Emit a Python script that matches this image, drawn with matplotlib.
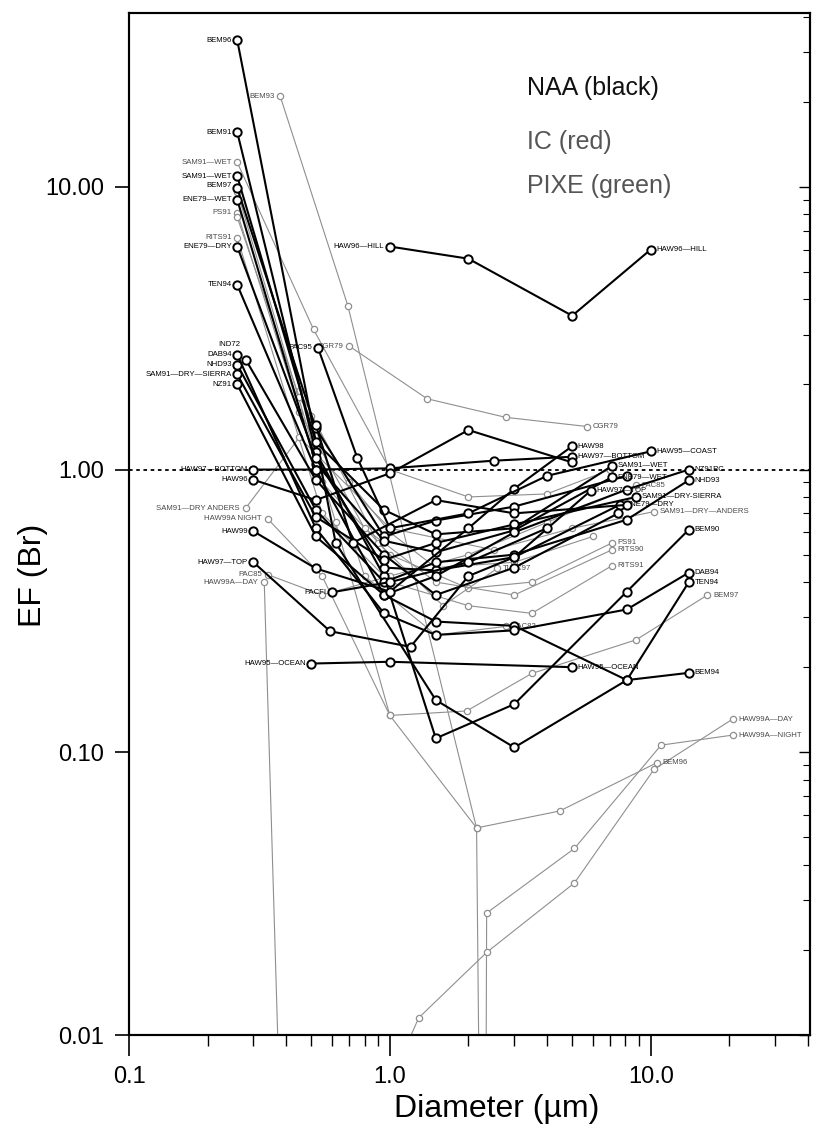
import matplotlib
matplotlib.use('Agg')
import matplotlib.pyplot as plt
from matplotlib.ticker import FixedLocator, FixedFormatter, LogLocator, NullFormatter

plt.rcParams['font.family'] = ['Liberation Sans', 'DejaVu Sans']

# ---- NAA (black) series: diameter (um), EF(Br) ----
bem96_x = [0.26, 0.62, 1.5, 3.0, 8.1, 14]
bem96_y = [33, 0.55, 0.153, 0.104, 0.18, 0.191]
bem91_x = [0.26, 0.52, 0.95, 1.5, 3.0, 8.1, 14]
bem91_y = [15.6, 1.15, 0.42, 0.112, 0.148, 0.37, 0.613]
samwet_x = [0.26, 0.52, 0.95, 1.5, 3.0, 7.1]
samwet_y = [10.9, 1.25, 0.72, 0.59, 0.62, 1.03]
bem97_x = [0.26, 0.52, 0.95, 1.5, 3.0, 8.1]
bem97_y = [9.9, 1.4, 0.58, 0.66, 0.74, 0.95]
enewet_x = [0.26, 0.52, 0.95, 1.5, 3.0, 7.1]
enewet_y = [9.0, 1.05, 0.56, 0.51, 0.61, 0.94]
enedry_x = [0.26, 0.52, 0.95, 1.5, 3.0, 7.6]
enedry_y = [6.15, 1.1, 0.45, 0.44, 0.49, 0.75]
ten94_x = [0.26, 0.52, 0.95, 1.5, 3.0, 8.1, 14]
ten94_y = [4.5, 1.0, 0.36, 0.29, 0.28, 0.18, 0.40]
dab94_x = [0.26, 0.52, 0.95, 1.5, 3.0, 8.1, 14]
dab94_y = [2.55, 0.62, 0.31, 0.26, 0.27, 0.32, 0.432]
ind72_x = [0.28, 0.52, 0.95, 1.5, 3.0, 7.5]
ind72_y = [2.45, 0.92, 0.50, 0.36, 0.45, 0.70]
nhd93_x = [0.26, 0.52, 0.95, 1.5, 3.0, 8.1, 14]
nhd93_y = [2.35, 0.72, 0.40, 0.47, 0.50, 0.665, 0.917]
sierra_x = [0.26, 0.52, 0.95, 1.5, 3.0, 8.8]
sierra_y = [2.17, 0.68, 0.48, 0.55, 0.64, 0.80]
nz91_x = [0.26, 0.52, 0.95, 1.5, 3.0, 8.1, 14]
nz91_y = [2.0, 0.58, 0.36, 0.42, 0.60, 0.85, 1.0]
hawbot_x = [0.30, 0.52, 1.0, 2.5, 5.0]
hawbot_y = [1.0, 1.0, 1.01, 1.075, 1.11]
haw96_x = [0.30, 0.52, 1.0, 2.0, 5.0]
haw96_y = [0.92, 0.78, 0.97, 1.38, 1.06]
haw99_x = [0.30, 0.52, 1.0, 2.0, 3.0, 5.0]
haw99_y = [0.605, 0.447, 0.37, 0.62, 0.856, 1.21]
hawtop_x = [0.30, 0.59, 1.2, 2.0, 3.0, 5.9]
hawtop_y = [0.47, 0.268, 0.236, 0.42, 0.49, 0.843]
ocean_x = [0.5, 1.0, 5.0]
ocean_y = [0.206, 0.209, 0.20]
hill_x = [1.0, 2.0, 5.0, 10.0]
hill_y = [6.15, 5.57, 3.5, 6.0]
coast_x = [0.53, 0.75, 1.0, 2.0, 4.0, 10.0]
coast_y = [2.7, 1.1, 0.62, 0.70, 0.95, 1.16]
pacfi_x = [0.60, 1.0, 2.0, 4.0]
pacfi_y = [0.368, 0.40, 0.47, 0.62]
extra_x = [0.52, 0.72, 1.5, 3.0, 8.1]
extra_y = [1.44, 0.55, 0.78, 0.70, 0.75]

# ---- IC / PIXE (grey in the scan) ----
bem93_x = [0.38, 0.69, 2.15, 4.48, 10.6]
bem93_y = [20.9, 3.8, 0.054, 0.062, 0.092]
gsam_x = [0.26, 0.51, 1.0, 2.0, 4.0, 7.0]
gsam_y = [12.2, 3.13, 1.0, 0.80, 0.82, 1.0]
gbem97_x = [0.26, 0.62, 1.0, 1.97, 3.5, 8.8, 16.5]
gbem97_y = [9.6, 0.65, 0.135, 0.14, 0.19, 0.25, 0.36]
ps91_x = [0.26, 0.55, 1.0, 2.0, 3.5, 7.1]
ps91_y = [8.1, 0.9, 0.5, 0.38, 0.40, 0.55]
rits91_x = [0.26, 0.55, 1.0, 2.0, 3.5, 7.1]
rits91_y = [6.6, 0.7, 0.40, 0.33, 0.31, 0.457]
rits90_x = [0.45, 0.8, 1.5, 3.0, 7.1]
rits90_y = [1.6, 0.62, 0.40, 0.36, 0.52]
cgr79_x = [0.70, 1.39, 2.78, 5.7]
cgr79_y = [2.73, 1.78, 1.53, 1.42]
anders_x = [0.28, 0.45, 1.0, 2.5, 5.0, 10.3]
anders_y = [0.73, 1.3, 0.62, 0.52, 0.62, 0.71]
night_x = [0.34, 0.55, 1.0, 2.15, 2.3, 2.35, 5.1, 10.96, 20.6]
night_y = [0.67, 0.42, 0.135, 0.054, 1e-4, 0.027, 0.0457, 0.106, 0.115]
day_x = [0.33, 0.40, 1.29, 2.35, 5.1, 10.3, 20.6]
day_y = [0.40, 0.001, 0.0115, 0.0196, 0.0345, 0.087, 0.131]
pac85_x = [0.34, 0.55, 1.0, 2.0, 4.0, 8.8]
pac85_y = [0.425, 0.36, 0.42, 0.50, 0.65, 0.88]
tlp_x = [0.45, 0.9, 1.6, 2.58]
tlp_y = [1.9, 0.55, 0.33, 0.447]
pac82_x = [0.5, 0.8, 1.5, 2.8]
pac82_y = [1.55, 0.42, 0.26, 0.279]
gextra_x = [0.26, 0.45, 0.7, 1.0, 1.5, 3.0, 6.0]
gextra_y = [7.8, 1.8, 0.9, 0.6, 0.45, 0.47, 0.58]

# (x, y, left label, right label)
naa = [
    (bem96_x, bem96_y, 'BEM96', 'BEM94'),
    (bem91_x, bem91_y, 'BEM91', 'BEM90'),
    (samwet_x, samwet_y, 'SAM91\u2014WET', 'SAM91\u2014WET'),
    (bem97_x, bem97_y, 'BEM97', None),
    (enewet_x, enewet_y, 'ENE79\u2014WET', 'ENE79\u2014WET'),
    (enedry_x, enedry_y, 'ENE79\u2014DRY', 'ENE79\u2014DRY'),
    (ten94_x, ten94_y, 'TEN94', 'TEN94'),
    (dab94_x, dab94_y, 'DAB94', 'DAB94'),
    (ind72_x, ind72_y, 'IND72', None),
    (nhd93_x, nhd93_y, 'NHD93', 'NHD93'),
    (sierra_x, sierra_y, 'SAM91\u2014DRY\u2014SIERRA', 'SAM91\u2014DRY-SIERRA'),
    (nz91_x, nz91_y, 'NZ91', 'NZ91PC'),
    (hawbot_x, hawbot_y, 'HAW97\u2014BOTTOM', 'HAW97\u2014BOTTOM'),
    (haw96_x, haw96_y, 'HAW96', None),
    (haw99_x, haw99_y, 'HAW99', 'HAW98'),
    (hawtop_x, hawtop_y, 'HAW97\u2014TOP', 'HAW97\u2014TOP'),
    (ocean_x, ocean_y, 'HAW95\u2014OCEAN', 'HAW95\u2014OCEAN'),
    (hill_x, hill_y, 'HAW96\u2014HILL', 'HAW96\u2014HILL'),
    (coast_x, coast_y, 'PAC95', 'HAW95\u2014COAST'),
    (pacfi_x, pacfi_y, 'PACFI', None),
    (extra_x, extra_y, None, None),
]
grey = [
    (bem93_x, bem93_y, 'BEM93', 'BEM96'),
    (gsam_x, gsam_y, 'SAM91\u2014WET', None),
    (gbem97_x, gbem97_y, None, 'BEM97'),
    (ps91_x, ps91_y, 'PS91', 'PS91'),
    (rits91_x, rits91_y, 'RITS91', 'RITS91'),
    (rits90_x, rits90_y, None, 'RITS90'),
    (cgr79_x, cgr79_y, 'CGR79', 'CGR79'),
    (anders_x, anders_y, 'SAM91\u2014DRY ANDERS', 'SAM91\u2014DRY\u2014ANDERS'),
    (night_x, night_y, 'HAW99A NIGHT', 'HAW99A\u2014NIGHT'),
    (day_x, day_y, 'HAW99A\u2014DAY', 'HAW99A\u2014DAY'),
    (pac85_x, pac85_y, 'PAC85', 'PAC85'),
    (tlp_x, tlp_y, None, 'TLPC97'),
    (pac82_x, pac82_y, None, 'PAC82'),
    (gextra_x, gextra_y, None, None),
]
# labels that sit a little above their marker in the original
raised = {'IND72': 11, 'BEM97': 2}

GREY = '#8f8f8f'
LBL = dict(fontsize=5.6, family=['Liberation Sans Narrow', 'Liberation Sans', 'DejaVu Sans'],
           textcoords='offset points', va='center')

fig = plt.figure(figsize=(8.14, 11.41), dpi=100)
ax = fig.add_axes([129 / 814, 1 - 1035 / 1141, 681 / 814, 1022 / 1141])
ax.set_xscale('log')
ax.set_yscale('log')
ax.set_xlim(0.1, 40.8)
ax.set_ylim(0.01, 41.2)

ax.axhline(1.0, color='k', lw=1.3, ls=(0, (2, 2)), zorder=1)


def draw(series, color, lw, ms, mew, tcolor):
    for xs, ys, left, right in series:
        ax.plot(xs, ys, color=color, lw=lw, marker='o', ms=ms, mfc='white',
                mec=color, mew=mew, zorder=3 if color == 'k' else 2)
        if left:
            dy = raised.get(left, 0)
            ax.annotate(left, (xs[0], ys[0]), xytext=(-4, dy), ha='right', color=tcolor, **LBL)
        if right:
            ax.annotate(right, (xs[-1], ys[-1]), xytext=(4, 0), ha='left', color=tcolor, **LBL)


draw(grey, GREY, 0.8, 4.5, 0.9, '#4a4a4a')
draw(naa, 'k', 1.5, 6, 1.4, 'k')

# ticks
ax.xaxis.set_major_locator(FixedLocator([0.1, 1, 10]))
ax.xaxis.set_major_formatter(FixedFormatter(['0.1', '1.0', '10.0']))
ax.xaxis.set_minor_locator(LogLocator(base=10, subs=range(2, 10)))
ax.xaxis.set_minor_formatter(NullFormatter())
ax.yaxis.set_major_locator(FixedLocator([0.01, 0.1, 1, 10]))
ax.yaxis.set_major_formatter(FixedFormatter(['0.01', '0.10', '1.00', '10.00']))
ax.yaxis.set_minor_locator(FixedLocator([]))
ax.tick_params(axis='x', which='major', direction='out', length=15, width=1.2, pad=7, labelsize=17)
ax.tick_params(axis='x', which='minor', direction='out', length=8, width=1.0)
ax.tick_params(axis='y', which='major', direction='out', length=10, width=1.2, pad=8, labelsize=17)

axr = ax.twinx()
axr.set_yscale('log')
axr.set_ylim(ax.get_ylim())
axr.yaxis.set_major_locator(LogLocator(base=10))
axr.yaxis.set_minor_locator(LogLocator(base=10, subs=range(2, 10)))
axr.yaxis.set_major_formatter(NullFormatter())
axr.yaxis.set_minor_formatter(NullFormatter())
axr.tick_params(axis='y', which='major', direction='in', length=8, width=1.0)
axr.tick_params(axis='y', which='minor', direction='in', length=5, width=0.8)

for a in (ax, axr):
    for s in a.spines.values():
        s.set_linewidth(1.5)

ax.set_xlabel('Diameter (\u00b5m)', fontsize=23)
ax.set_ylabel('EF (Br)', fontsize=23)
ax.xaxis.set_label_coords(0.54, -0.058)
ax.yaxis.set_label_coords(-0.119, 0.45)

ax.text(0.584, 0.927, 'NAA (black)', transform=ax.transAxes, fontsize=18, color='#111111', va='center')
ax.text(0.584, 0.874, 'IC (red)', transform=ax.transAxes, fontsize=18, color='#555555', va='center')
ax.text(0.584, 0.831, 'PIXE (green)', transform=ax.transAxes, fontsize=18, color='#555555', va='center')

fig.savefig('out.png', dpi=100)
